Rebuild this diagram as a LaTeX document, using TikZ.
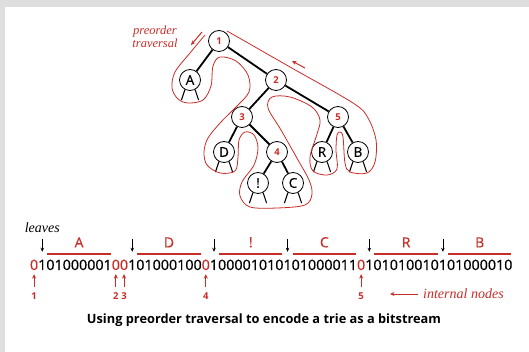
\documentclass[tikz,border=0pt]{standalone}
\usepackage{fontspec}
\setsansfont{Open Sans}
\newfontfamily\notefont{Liberation Serif}
\newfontfamily\bitfont[FakeBold=0.5]{Open Sans}
\usetikzlibrary{positioning, arrows.meta}
\definecolor{trred}{RGB}{200,45,40}

\begin{document}
\begin{tikzpicture}[x=1pt, y=1pt,
    inode/.style={circle, draw, line width=0.8pt, fill=white, minimum size=21pt, inner sep=0pt,
      text=trred, font=\sffamily\bfseries\fontsize{9.5}{9.5}\selectfont},
    leaf/.style={circle, draw, line width=0.8pt, fill=white, minimum size=21pt, inner sep=0pt,
      font=\bitfont\fontsize{13.5}{13.5}\selectfont},
    link/.style={line width=1.8pt},
    stub/.style={line width=1.1pt},
    trav/.style={trred, line width=0.8pt},
    bits/.style={inner sep=0pt, outer sep=0pt, font=\bitfont\fontsize{14.3}{14.3}\selectfont},
    ibit/.style={bits, text=trred},
    chr/.style={inner sep=0pt, text=trred, font=\bitfont\fontsize{14}{14}\selectfont},
    num/.style={inner sep=0pt, text=trred, font=\sffamily\bfseries\fontsize{9.5}{9.5}\selectfont},
    note/.style={inner sep=0pt, font=\notefont\itshape\fontsize{14}{15}\selectfont},
    bar/.style={trred, line width=2pt},
    leafarr/.style={-{Stealth[length=4pt, width=3.5pt]}, line width=0.8pt},
    intarr/.style={-{Stealth[length=4.5pt, width=4pt]}, trred, line width=1pt}]

  % marco y fondo
  \useasboundingbox (0,0) rectangle (529,-352);
  \fill[black!13] (0,0) rectangle (529,-352);
  \fill[white] (5,-7) rectangle (529,-352);

  % nodos del trie
  \begin{scope}[on grid]
    \node[inode] (n1) at (219,-41) {1};
    \node[leaf] (A) [below left=39pt and 29pt of n1] {A};
    \node[inode] (n2) [below right=39pt and 57pt of n1] {2};
    \node[inode] (n3) [below left=37pt and 34pt of n2] {3};
    \node[inode] (n5) [below right=37pt and 62pt of n2] {5};
    \node[leaf] (D) [below left=35pt and 18pt of n3] {D};
    \node[inode] (n4) [below right=35pt and 35pt of n3] {4};
    \node[leaf] (R) [below left=35pt and 16pt of n5] {R};
    \node[leaf] (B) [below right=35pt and 20pt of n5] {B};
    \node[leaf] (X) [below left=31pt and 19pt of n4] {!};
    \node[leaf] (C) [below right=31pt and 16pt of n4] {C};
  \end{scope}

  % enlaces
  \path[link]
    (n1) edge (A)
    (n1) edge (n2)
    (n2) edge (n3)
    (n2) edge (n5)
    (n3) edge (D)
    (n3) edge (n4)
    (n4) edge (X)
    (n4) edge (C)
    (n5) edge (R)
    (n5) edge (B);

  % enlaces nulos de las hojas
  \draw[stub]
    (A.242) -- ++(-3.5,-10.5) (A.298) -- ++(3.5,-10.5)
    (D.242) -- ++(-3.5,-10.5) (D.298) -- ++(3.5,-10.5)
    (X.242) -- ++(-3.5,-10.5) (X.298) -- ++(3.5,-10.5)
    (C.242) -- ++(-3.5,-10.5) (C.298) -- ++(3.5,-10.5)
    (R.242) -- ++(-3.5,-10.5) (R.298) -- ++(3.5,-10.5)
    (B.242) -- ++(-3.5,-10.5) (B.298) -- ++(3.5,-10.5);

  % recorrido en preorden
  \draw[trav] plot[smooth, tension=0.55] coordinates {
    (205,-35) (190,-53) (175,-72) (172,-88) (178,-99) (188,-103) (203,-100) (211,-86)
    (213,-66) (220,-57) (236,-61) (248,-75) (249,-92) (236,-107) (221,-122) (208,-138)
    (204,-152) (207,-165) (220,-173) (235,-171) (238,-157) (239,-140) (245,-132) (254,-135)
    (258,-148) (254,-165) (242,-182) (240,-196) (250,-207) (277,-208) (305,-205) (312,-194)
    (309,-180) (298,-160) (281,-130) (268,-108) (272,-97) (290,-97) (312,-107) (320,-120)
    (317,-134) (310,-157) (313,-171) (327,-175) (337,-169) (336,-150) (337,-135) (340,-132)
    (343,-137) (345,-163) (350,-172) (367,-173) (375,-162) (376,-140) (368,-118) (353,-103)
    (290,-67) (227,-31)};
  \draw[intarr] (202,-32) -- (191,-45);
  \draw[intarr] (305,-68) -- (292,-61);
  \node[note, text=trred, align=center, font=\notefont\itshape\fontsize{12.5}{13}\selectfont] (travl) at (155,-37) {preorder\\traversal};

  % flujo de bits
  \node[ibit, anchor=base west] (z1) at (30,-270) {0};
  \node[bits, right=0pt of z1] (lA) {1};
  \node[bits, right=0pt of lA] (cA) {01000001};
  \node[ibit, right=0pt of cA] (z2) {0};
  \node[ibit, right=0pt of z2] (z3) {0};
  \node[bits, right=0pt of z3] (lD) {1};
  \node[bits, right=0pt of lD] (cD) {01000100};
  \node[ibit, right=0pt of cD] (z4) {0};
  \node[bits, right=0pt of z4] (lX) {1};
  \node[bits, right=0pt of lX] (cX) {00001010};
  \node[bits, right=0pt of cX] (lC) {1};
  \node[bits, right=0pt of lC] (cC) {01000011};
  \node[ibit, right=0pt of cC] (z5) {0};
  \node[bits, right=0pt of z5] (lR) {1};
  \node[bits, right=0pt of lR] (cR) {01010010};
  \node[bits, right=0pt of cR] (lB) {1};
  \node[bits, right=0pt of lB] (cB) {01000010};

  % caracteres de las hojas
  \draw[bar] ([shift={(1pt,6pt)}]cA.north west) -- ([shift={(-1pt,6pt)}]cA.north east);
  \draw[bar] ([shift={(1pt,6pt)}]cD.north west) -- ([shift={(-1pt,6pt)}]cD.north east);
  \draw[bar] ([shift={(1pt,6pt)}]cX.north west) -- ([shift={(-1pt,6pt)}]cX.north east);
  \draw[bar] ([shift={(1pt,6pt)}]cC.north west) -- ([shift={(-1pt,6pt)}]cC.north east);
  \draw[bar] ([shift={(1pt,6pt)}]cR.north west) -- ([shift={(-1pt,6pt)}]cR.north east);
  \draw[bar] ([shift={(1pt,6pt)}]cB.north west) -- ([shift={(-1pt,6pt)}]cB.north east);
  \node[chr, above=12pt of cA.north] (tA) {A};
  \node[chr, above=12pt of cD.north] (tD) {D};
  \node[chr, above=12pt of cX.north] (tX) {!};
  \node[chr, above=12pt of cC.north] (tC) {C};
  \node[chr, above=12pt of cR.north] (tR) {R};
  \node[chr, above=12pt of cB.north] (tB) {B};

  % marcas de hojas
  \node[note, above=27pt of lA.north] (leaves) {leaves};
  \draw[leafarr] ([yshift=21pt]lA.north) -- ([yshift=8pt]lA.north);
  \draw[leafarr] ([yshift=21pt]lD.north) -- ([yshift=8pt]lD.north);
  \draw[leafarr] ([yshift=21pt]lX.north) -- ([yshift=8pt]lX.north);
  \draw[leafarr] ([yshift=21pt]lC.north) -- ([yshift=8pt]lC.north);
  \draw[leafarr] ([yshift=21pt]lR.north) -- ([yshift=8pt]lR.north);
  \draw[leafarr] ([yshift=21pt]lB.north) -- ([yshift=8pt]lB.north);

  % marcas de nodos internos
  \draw[intarr] ([yshift=-17pt]z1.south) -- ([yshift=-4pt]z1.south);
  \draw[intarr] ([yshift=-17pt]z2.south) -- ([yshift=-4pt]z2.south);
  \draw[intarr] ([yshift=-17pt]z3.south) -- ([yshift=-4pt]z3.south);
  \draw[intarr] ([yshift=-17pt]z4.south) -- ([yshift=-4pt]z4.south);
  \draw[intarr] ([yshift=-17pt]z5.south) -- ([yshift=-4pt]z5.south);
  \node[num, below=22pt of z1.south] (k1) {1};
  \node[num, below=22pt of z2.south] (k2) {2};
  \node[num, below=22pt of z3.south] (k3) {3};
  \node[num, below=22pt of z4.south] (k4) {4};
  \node[num, below=22pt of z5.south] (k5) {5};
  \node[note, text=trred, anchor=west] (intl) at (423,-294) {internal nodes};
  \draw[intarr] ([xshift=-5pt]intl.west) -- ++(-28,0);

  % pie
  \node[font=\sffamily\bfseries\fontsize{12.8}{12.8}\selectfont] (caption) at (264,-320)
    {Using preorder traversal to encode a trie as a bitstream};

\end{tikzpicture}
\end{document}
